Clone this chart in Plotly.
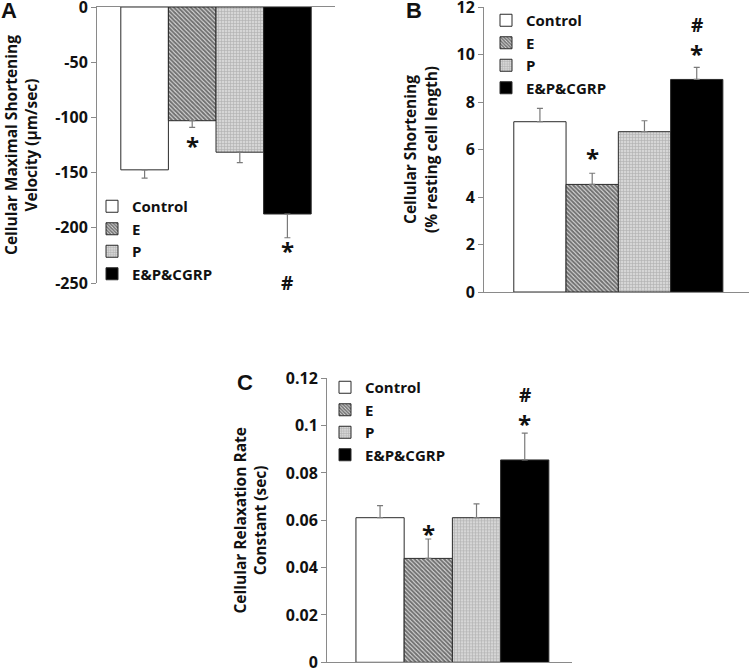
import plotly.graph_objects as go

# ---------------- data ----------------
groups = ["Control", "E", "P", "E&P&CGRP"]
x_pos = [0, 1, 2, 3]

velocity = [-147.5, -103, -131.5, -187.5]          # µm/sec
velocity_err = [7.5, 6, 9.5, 21.5]

shortening = [7.17, 4.53, 6.75, 8.95]               # % resting cell length
shortening_err = [0.56, 0.47, 0.46, 0.51]

relax = [0.0611, 0.0439, 0.0611, 0.0855]            # sec
relax_err = [0.0051, 0.0082, 0.0058, 0.0113]

# significance marks: (group index, y value, text)
sig_a = [(1, -122, "*"), (3, -217, "*"), (3, -250, "#")]
sig_b = [(1, 5.85, "*"), (3, 10.19, "*"), (3, 11.25, "#")]
sig_c = [(1, 0.0563, "*"), (3, 0.1024, "*"), (3, 0.113, "#")]

ticks_a = [0, -50, -100, -150, -200, -250]
ticks_a_text = ["0", "-50", "-100", "-150", "-200", "-250"]
ticks_b = [0, 2, 4, 6, 8, 10, 12]
ticks_b_text = ["0", "2", "4", "6", "8", "10", "12"]
ticks_c = [0, 0.02, 0.04, 0.06, 0.08, 0.1, 0.12]
ticks_c_text = ["0", "0.02", "0.04", "0.06", "0.08", "0.1", "0.12"]

# ---------------- styles ----------------
FONT = "Open Sans"
TXT = "#111111"
AX = "#8a8a8a"
styles = [
    dict(color="white", pattern=dict(shape="")),
    dict(color="#444", pattern=dict(shape="\\", fgcolor="#000000", bgcolor="#e4e4e4", size=3, solidity=0.68)),
    dict(color="#bbb", pattern=dict(shape="+", fgcolor="#888888", bgcolor="#d6d6d6", size=3, solidity=0.35)),
    dict(color="black", pattern=dict(shape="")),
]

fig = go.Figure()

panels = [
    dict(vals=velocity, err=velocity_err, down=True, xa="x", ya="y", leg="legend"),
    dict(vals=shortening, err=shortening_err, down=False, xa="x2", ya="y2", leg="legend2"),
    dict(vals=relax, err=relax_err, down=False, xa="x3", ya="y3", leg="legend3"),
]

for p in panels:
    for i, g in enumerate(groups):
        st = styles[i]
        if p["down"]:
            ey = dict(type="data", symmetric=False, array=[0], arrayminus=[p["err"][i]],
                      color="#7a7a7a", thickness=1.2, width=3)
        else:
            ey = dict(type="data", symmetric=False, array=[p["err"][i]], arrayminus=[0],
                      color="#7a7a7a", thickness=1.2, width=3)
        marker = dict(color=st["color"], line=dict(color="#2a2a2a", width=1))
        if st["pattern"]["shape"]:
            marker["pattern"] = st["pattern"]
        fig.add_trace(go.Bar(
            x=[x_pos[i]], y=[p["vals"][i]], width=1, name=g,
            marker=marker, error_y=ey,
            xaxis=p["xa"], yaxis=p["ya"], legend=p["leg"],
            hoverinfo="skip",
        ))

W, H = 750, 669
def px_x(a, b):
    return [a / W, b / W]
def px_y(top, bottom):
    return [1 - bottom / H, 1 - top / H]

tickfont = dict(family=FONT, size=16, color=TXT, weight="bold")
titlefont = dict(family=FONT, size=15.5, color=TXT, weight="bold")

def yaxis(dom, rng, tv, tt, title, anchor):
    return dict(domain=dom, range=rng, tickvals=tv, ticktext=tt, showline=True,
                linecolor=AX, linewidth=1, ticks="outside", ticklen=5, tickcolor=AX,
                showgrid=False, zeroline=False, tickfont=tickfont, anchor=anchor,
                ticklabeloverflow="allow",
                title=dict(text=title, font=titlefont), automargin=False)

def xaxis(dom, rng, anchor, side="bottom"):
    return dict(domain=dom, range=rng, showline=True, linecolor=AX, linewidth=1,
                showticklabels=False, ticks="", showgrid=False, zeroline=False,
                anchor=anchor, side=side, automargin=False)

legfont = dict(family=FONT, size=15, color=TXT, weight="bold")
def legend(xpx, ypx):
    return dict(x=xpx / W, y=1 - ypx / H, xanchor="left", yanchor="top",
                bgcolor="rgba(0,0,0,0)", font=legfont, tracegroupgap=0,
                itemclick=False, itemdoubleclick=False)

fig.update_layout(
    width=W, height=H, margin=dict(l=0, r=0, t=0, b=0),
    paper_bgcolor="white", plot_bgcolor="white",
    barmode="overlay", showlegend=True,
    font=dict(family=FONT, color=TXT),
    xaxis=xaxis(px_x(97, 335), [-1, 4], "y", side="top"),
    yaxis=yaxis(px_y(7, 283), [-250, 0], ticks_a, ticks_a_text,
                "Cellular Maximal Shortening<br>Velocity (\u03bcm/sec)", "x"),
    xaxis2=xaxis(px_x(484, 749), [-1.07, 4.0], "y2"),
    yaxis2=yaxis(px_y(7, 292), [0, 12], ticks_b, ticks_b_text,
                 "Cellular Shortening<br>(% resting cell length)", "x2"),
    xaxis3=xaxis(px_x(327, 572), [-1.1, 3.98], "y3"),
    yaxis3=yaxis(px_y(378.3, 662.3), [0, 0.12], ticks_c, ticks_c_text,
                 "Cellular Relaxation Rate<br>Constant (sec)", "x3"),
    legend=legend(92, 190),
    legend2=legend(486, 4),
    legend3=legend(325, 371),
)

annots = []
for sig, xr, yr in [(sig_a, "x", "y"), (sig_b, "x2", "y2"), (sig_c, "x3", "y3")]:
    for gi, yv, t in sig:
        annots.append(dict(x=x_pos[gi], y=yv, xref=xr, yref=yr, text=t, showarrow=False,
                           xanchor="center", yanchor="middle",
                           font=dict(family=FONT, size=24 if t == "*" else 19, color=TXT, weight="bold"),
                           yshift=-4 if t == "*" else 0))
for letter, xpx, ypx in [("A", 9, 11), ("B", 414, 10), ("C", 245.5, 382.5)]:
    annots.append(dict(x=xpx / W, y=1 - ypx / H, xref="paper", yref="paper", text=letter,
                       xanchor="center", yanchor="middle", showarrow=False,
                       font=dict(family="Liberation Sans", size=22, color=TXT, weight="bold")))
fig.update_layout(annotations=annots)

# remove the browser's default 8px page margin so the figure fills the window
fig.write_html("out.html", config={"displayModeBar": False},
               post_script="document.body.style.margin='0';")
